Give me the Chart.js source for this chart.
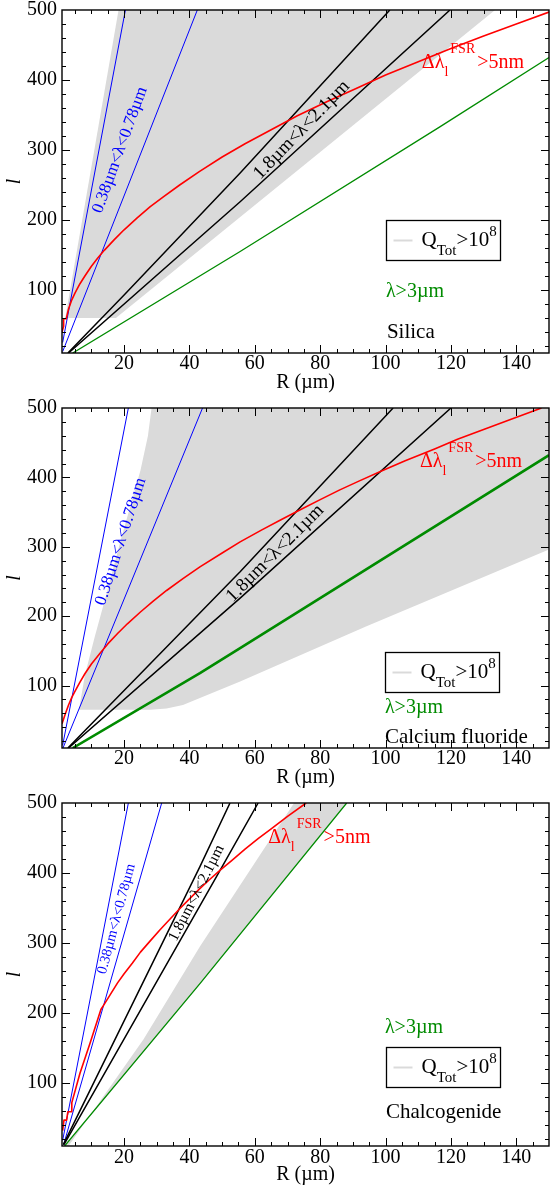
<!DOCTYPE html>
<html><head><meta charset="utf-8">
<script src="https://cdn.jsdelivr.net/npm/chart.js@4.4.0/dist/chart.umd.min.js"></script>
<style>
html,body{margin:0;padding:0;background:#fff;}
body{width:550px;height:1187px;position:relative;overflow:hidden;}
canvas{position:absolute;left:0;}
</style></head><body>
<canvas id="c1" width="550" height="395" style="top:0px;width:550px;height:395px"></canvas>
<canvas id="c2" width="550" height="392" style="top:398px;width:550px;height:392px"></canvas>
<canvas id="c3" width="550" height="394" style="top:793px;width:550px;height:394px"></canvas>
<script>
// ---------- tick labels ----------
const xMajorTicks = [20, 40, 60, 80, 100, 120, 140];
const yMajorTicks = [100, 200, 300, 400, 500];

// ---------- Silica ----------
const silicaQ = [[2.0,60],[18.3,500],[133.5,500],[17.5,60]];
const silicaBlueShort = [[1.2,25],[20.4,500]];
const silicaBlueLong = [[1.2,12],[42.4,500]];
const silicaBlackShort = [[2.8,10],[20,93],[55.5,267],[101.3,500]];
const silicaBlackLong = [[3.0,10],[55.5,226],[119.7,500]];
const silicaGreen = [[4.3,10],[55.5,155],[116.6,333],[150,432]];
const silicaRed = [[1.0,40],[1.5,48],[1.5,59],[2.3,59],[3,73],[4,86],[5,96],[6.5,109],[8,120],[10,134],[12,146],[14,157],[17,172],[20,186],[24,203],[28,219],[32,233],[37,250],[43,269],[50,290],[57,309],[65,329],[73,349],[82,369],[91,388],[100,407],[110,426],[120,445],[130,463],[140,480],[150,497]];

// ---------- Calcium fluoride ----------
const cafQ = [[6.2,65],[8,115],[11,170],[14.5,230],[19,310],[25,410],[27.3,460],[28.4,500],[150,500],[150,296],[94,185],[55.5,106],[43.2,82],[38,72],[33,67],[28,65]];
const cafBlueShort = [[1.2,14],[21.3,500]];
const cafBlueLong = [[1.3,10],[44.0,500]];
const cafBlackShort = [[2.8,10],[55.5,264],[102.3,500]];
const cafBlackLong = [[3.0,10],[55.5,226],[120,500]];
const cafGreen = [[4.3,10],[43.2,118],[55.5,154],[150,432]];
const cafRed = [[1.0,45],[2,59],[3,72],[4,83],[5,92],[6.5,105],[8,117],[10,131],[12.7,147],[15,160],[18,175],[21,189],[25,206],[29,222],[33,237],[38,254],[43.2,271],[50,291],[55.5,307],[62,324],[68,339],[73.3,352],[80,368],[86,382],[92,395],[99.1,410],[106,424],[115,441],[122,455],[130,469],[138,483],[147.7,500]];

// ---------- Chalcogenide ----------
const chalQ = [[3.0,10],[25.9,162],[43.2,295],[72,500],[88.1,500],[43.2,241],[2.0,10]];
const chalBlueShort = [[1.2,18],[21.3,500]];
const chalBlueLong = [[1.5,12],[31.5,500]];
const chalBlackShort = [[1.4,12],[43.2,409],[52.4,500]];
const chalBlackLong = [[1.6,12],[49.4,404],[61,500]];
const chalGreen = [[1.8,10],[43.2,242],[88.1,500]];
const chalRed = [[1.2,32],[1.6,47],[2.4,47],[2.8,59],[3.8,59],[4.0,72],[6.5,114],[9.6,157],[12.9,205],[14,213],[16,228],[18,243],[20,256],[22.5,271],[25,287],[28,303],[31,319],[34,334],[37,349],[40,363],[43,377],[46,390],[49.4,404],[53,418],[57,434],[61,449],[65,463],[70,481],[75.7,500]];

// ---------- styles ----------
const FONT = '"Liberation Serif", "Times New Roman", serif';
const RED = '#ff0000', BLUE = '#0000ff', GREEN = '#008b00', GRAY = '#dadada', BLACK = '#000000';

const panels = [
  { id:'c1', name:'Silica', q:silicaQ, b1:silicaBlueShort, b2:silicaBlueLong, k1:silicaBlackShort, k2:silicaBlackLong, g:silicaGreen, r:silicaRed,
    greenWidth:1.3, xAxisH:42, tickPad:-1,
    blueText:{x:18.75,y:300,rot:-70,size:17}, blackText:{x:74.3,y:328.6,rot:-46,size:19},
    redLabel:{x:111.1,y:416.7}, legend:{x:100.1,y:200}, greenLabel:{x:100.1,y:90}, nameLabel:{x:100.4,y:31.4} },
  { id:'c2', name:'Calcium fluoride', q:cafQ, b1:cafBlueShort, b2:cafBlueLong, k1:cafBlackShort, k2:cafBlackLong, g:cafGreen, r:cafRed,
    greenWidth:2.6, xAxisH:42, tickPad:-1,
    blueText:{x:19.0,y:307.4,rot:-72,size:17}, blackText:{x:66.2,y:290.6,rot:-45,size:19},
    redLabel:{x:110.5,y:415.4}, legend:{x:99.8,y:148.9}, greenLabel:{x:99.8,y:60.5}, nameLabel:{x:99.8,y:17.3} },
  { id:'c3', name:'Chalcogenide', q:chalQ, b1:chalBlueShort, b2:chalBlueLong, k1:chalBlackShort, k2:chalBlackLong, g:chalGreen, r:chalRed,
    greenWidth:1.3, xAxisH:41, tickPad:0,
    blueText:{x:17.7,y:334.3,rot:-75,size:14.5}, blackText:{x:42.2,y:371.4,rot:-63,size:15.5},
    redLabel:{x:64.1,y:442.4}, legend:{x:100.1,y:151}, greenLabel:{x:99.8,y:171.4}, nameLabel:{x:100.1,y:50} }
];

function drawRuns(ctx, x, y, runs) {
  let cx = x;
  for (const r of runs) {
    ctx.font = (r.style ? r.style + ' ' : '') + r.size + 'px ' + FONT;
    ctx.fillStyle = r.color;
    ctx.fillText(r.text, cx, y + (r.dy || 0));
    cx += ctx.measureText(r.text).width + (r.gap || 0);
  }
}

const framePlugin = {
  id: 'frame',
  afterDraw(chart) {
    const {ctx, chartArea: a, scales: {x, y}} = chart;
    ctx.save();
    ctx.strokeStyle = BLACK;
    ctx.lineWidth = 1;
    const line = (x1, y1, x2, y2) => { ctx.beginPath(); ctx.moveTo(x1, y1); ctx.lineTo(x2, y2); ctx.stroke(); };
    for (let v = 5; v < 150; v += 5) {
      const p = Math.round(x.getPixelForValue(v)) + 0.5;
      const len = xMajorTicks.includes(v) ? 8 : 4;
      line(p, a.bottom, p, a.bottom - len);
      line(p, a.top, p, a.top + len);
    }
    for (let v = 20; v < 500; v += 20) {
      const p = Math.round(y.getPixelForValue(v)) + 0.5;
      const len = yMajorTicks.includes(v) ? 8 : 4;
      line(a.left, p, a.left + len, p);
      line(a.right, p, a.right - len, p);
    }
    ctx.lineWidth = 1.4;
    ctx.strokeRect(a.left, a.top, a.right - a.left, a.bottom - a.top);
    ctx.restore();
  }
};

const textPlugin = {
  id: 'texts',
  afterDatasetsDraw(chart, args, opts) {
    const P = opts.panel;
    const {ctx, scales: {x, y}} = chart;
    const px = v => x.getPixelForValue(v), py = v => y.getPixelForValue(v);
    ctx.save();
    ctx.textBaseline = 'middle';
    ctx.textAlign = 'center';
    for (const [t, txt, col] of [[P.blueText, '0.38\u00b5m<\u03bb<0.78\u00b5m', BLUE], [P.blackText, '1.8\u00b5m<\u03bb<2.1\u00b5m', BLACK]]) {
      ctx.save();
      ctx.translate(px(t.x), py(t.y));
      ctx.rotate(t.rot * Math.PI / 180);
      ctx.font = t.size + 'px ' + FONT;
      ctx.fillStyle = col;
      ctx.fillText(txt, 0, 0);
      ctx.restore();
    }
    ctx.textAlign = 'left';
    ctx.textBaseline = 'alphabetic';
    drawRuns(ctx, px(P.redLabel.x), py(P.redLabel.y), [
      {text:'\u0394\u03bb', size:20, color:RED},
      {text:'l', size:14, dy:8, color:RED, gap:2},
      {text:'FSR', size:14, dy:-15, color:RED, gap:2},
      {text:'>5nm', size:20, color:RED}
    ]);
    drawRuns(ctx, px(P.greenLabel.x), py(P.greenLabel.y), [{text:'\u03bb>3\u00b5m', size:20, color:GREEN}]);
    drawRuns(ctx, px(P.nameLabel.x), py(P.nameLabel.y), [{text:P.name, size:21, color:BLACK}]);
    const L = Math.round(px(P.legend.x)) + 0.5, T = Math.round(py(P.legend.y)) + 0.5;
    ctx.fillStyle = '#fff';
    ctx.fillRect(L, T, 114, 40);
    ctx.strokeStyle = BLACK; ctx.lineWidth = 1.3;
    ctx.strokeRect(L, T, 114, 40);
    ctx.strokeStyle = GRAY; ctx.lineWidth = 2;
    ctx.beginPath(); ctx.moveTo(L + 7, T + 20); ctx.lineTo(L + 26, T + 20); ctx.stroke();
    drawRuns(ctx, L + 35, T + 25, [
      {text:'Q', size:21, color:BLACK},
      {text:'Tot', size:15, dy:9, color:BLACK},
      {text:'>10', size:21, color:BLACK},
      {text:'8', size:15, dy:-10, color:BLACK}
    ]);
    ctx.restore();
  }
};

function makeChart(P) {
  const ds = (pts, color, width, extra) => Object.assign({
    data: pts.map(p => ({x: p[0], y: p[1]})),
    borderColor: color, borderWidth: width, pointRadius: 0, pointHoverRadius: 0,
    fill: false, tension: 0, order: 0, borderJoinStyle: 'round'
  }, extra || {});
  new Chart(document.getElementById(P.id), {
    type: 'line',
    data: { datasets: [
      ds(P.r, RED, 1.6),
      ds(P.k1, BLACK, 1.5),
      ds(P.k2, BLACK, 1.5),
      ds(P.b1, BLUE, 1),
      ds(P.b2, BLUE, 1),
      ds(P.g, GREEN, P.greenWidth),
      ds(P.q, GRAY, 0, {fill: 'shape', backgroundColor: GRAY, order: 5})
    ]},
    options: {
      responsive: false, animation: false, devicePixelRatio: 1,
      layout: { padding: { top: 10, right: 1, left: 0, bottom: 0 } },
      events: [],
      plugins: { legend: { display: false }, tooltip: { enabled: false }, texts: { panel: P } },
      scales: {
        x: {
          type: 'linear', min: 1, max: 150,
          afterBuildTicks: s => { s.ticks = xMajorTicks.map(v => ({value: v})); },
          afterFit: s => { s.height = P.xAxisH; s.paddingLeft = 0; s.paddingRight = 0; },
          grid: { display: false, drawTicks: false },
          border: { display: false },
          ticks: { font: { family: FONT, size: 20 }, color: BLACK, padding: P.tickPad, maxRotation: 0, autoSkip: false },
          title: { display: true, text: 'R (\u00b5m)', font: { family: FONT, size: 20 }, color: BLACK, padding: 0 }
        },
        y: {
          type: 'linear', min: 10, max: 500,
          afterBuildTicks: s => { s.ticks = yMajorTicks.map(v => ({value: v})); },
          afterFit: s => { s.width = 62; s.paddingTop = 0; s.paddingBottom = 0; },
          grid: { display: false, drawTicks: false },
          border: { display: false },
          ticks: { font: { family: FONT, size: 20 }, color: BLACK, padding: 5, autoSkip: false },
          title: { display: true, text: 'l', font: { family: FONT, size: 20, style: 'italic' }, color: BLACK, padding: { top: 3, bottom: 0 } }
        }
      }
    },
    plugins: [textPlugin, framePlugin]
  });
}
panels.forEach(makeChart);
</script>
</body></html>
